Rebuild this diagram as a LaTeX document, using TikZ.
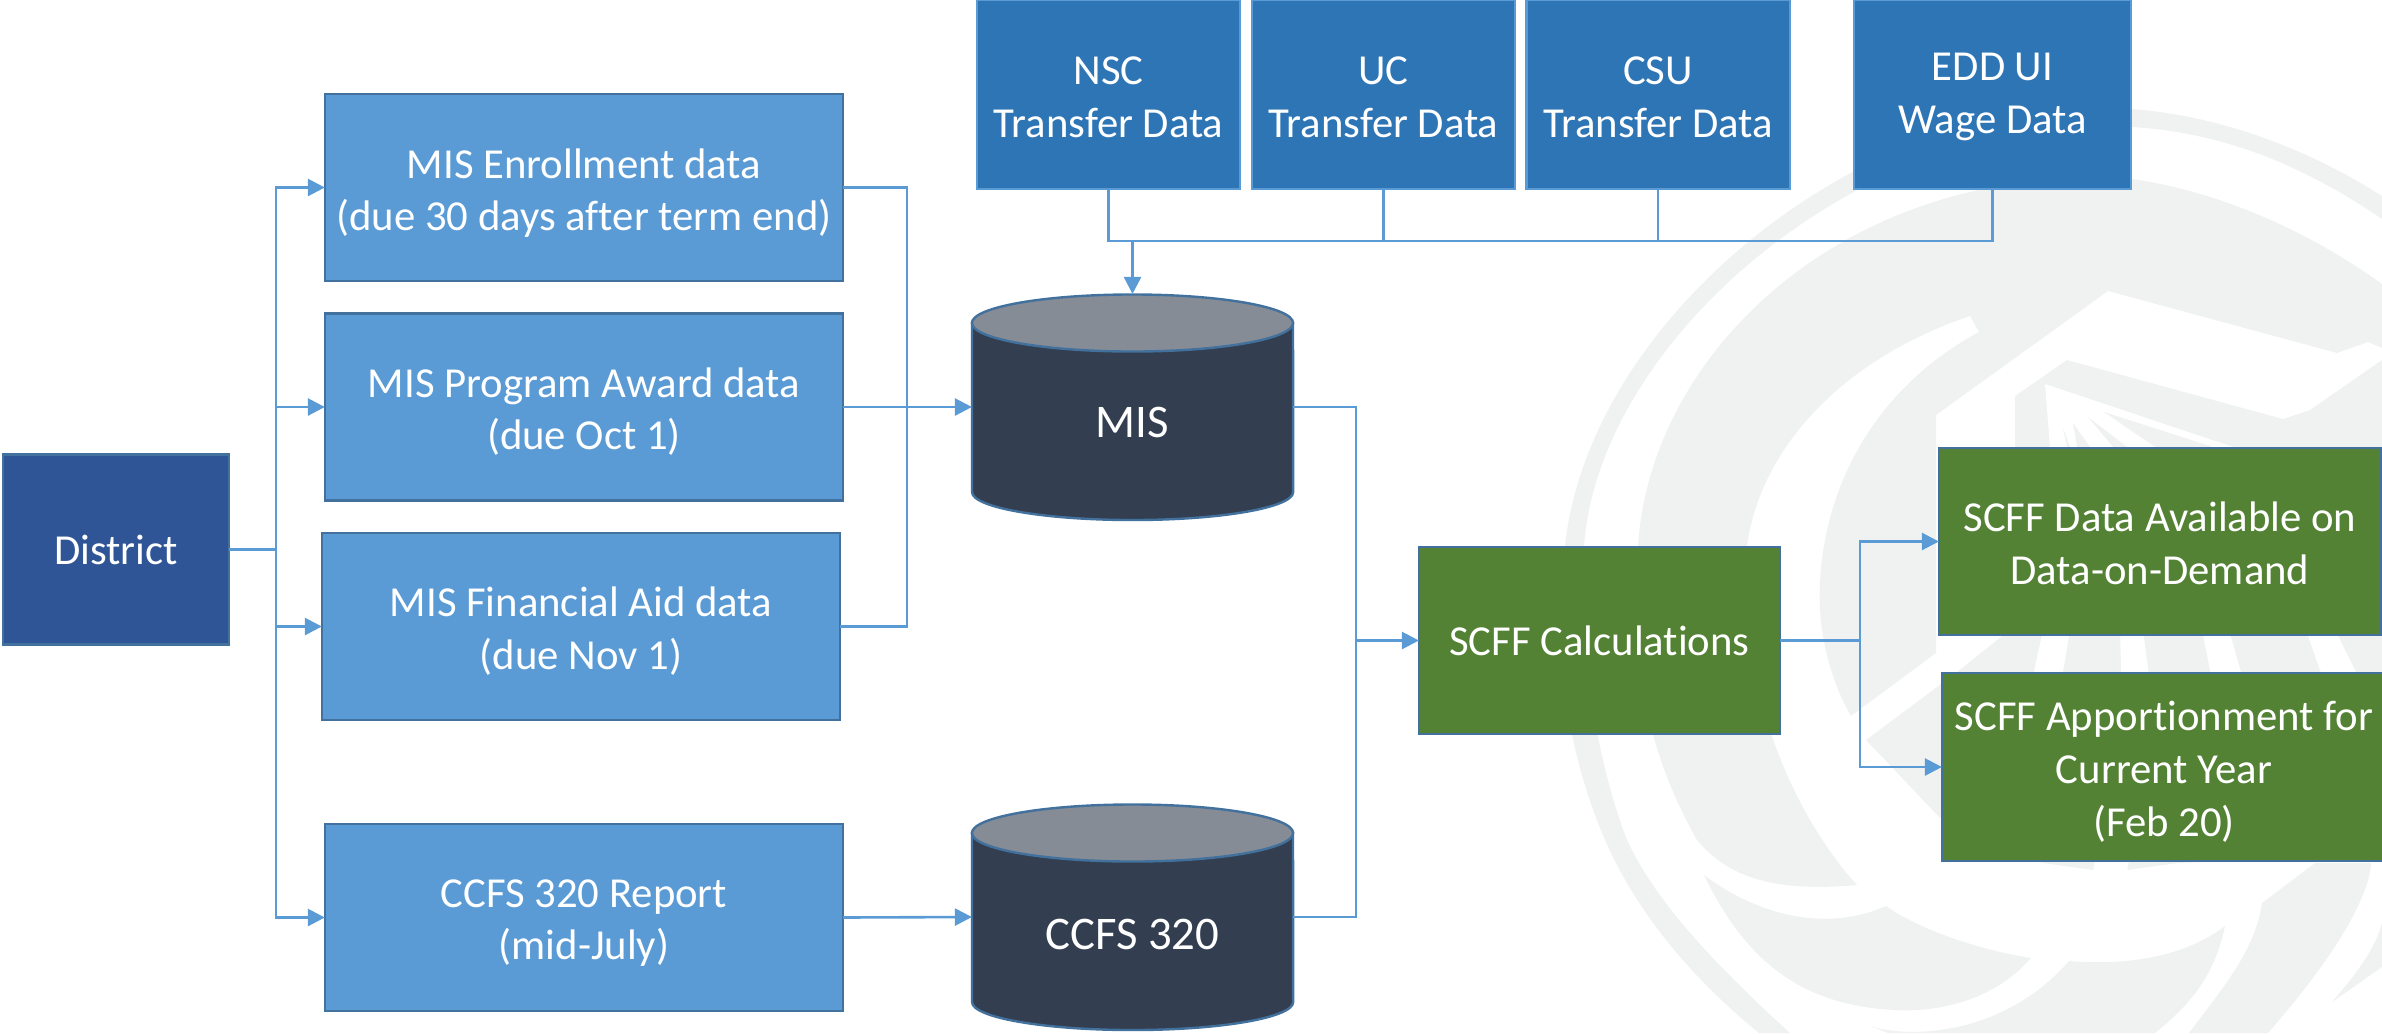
\documentclass[tikz,border=0pt]{standalone}
\usepackage{fontspec}
\setmainfont[Ligatures=NoCommon]{Carlito}
\usepackage{xcolor}
\usetikzlibrary{arrows.meta}
\tikzset{>={Triangle[length=0.17cm,width=0.17cm]}}
\definecolor{logogrey}{HTML}{F0F2F2}
\definecolor{linkblue}{HTML}{5B9BD5}
\definecolor{edgeblue}{HTML}{41719C}
\definecolor{topblue}{HTML}{2E75B6}
\definecolor{darkblue}{HTML}{2F5597}
\definecolor{slate}{HTML}{333F50}
\definecolor{slatetop}{HTML}{858C96}
\definecolor{sgreen}{HTML}{548235}
\newcommand{\firstline}[1][0.39cm]{\rule{0pt}{#1}}
\tikzstyle{basebox}=[draw,line width=0.022cm,text=white,align=center,outer sep=0pt,inner sep=0pt,
  font=\fontsize{12.15}{15}\selectfont]
\tikzstyle{databox}=[basebox,draw=edgeblue,fill=linkblue,minimum width=5.18cm,minimum height=1.87cm]
\tikzstyle{feedbox}=[basebox,draw=linkblue,fill=topblue,minimum width=2.63cm,minimum height=1.89cm]
\tikzstyle{resultbox}=[basebox,draw=edgeblue,fill=sgreen,minimum height=1.87cm]
\tikzstyle{drum}=[minimum width=3.21cm,minimum height=2.26cm,outer sep=0pt,inner sep=0pt]
\tikzstyle{drumtext}=[text=white,font=\fontsize{13.3}{16}\selectfont]
\tikzstyle{drumline}=[draw=edgeblue,line width=0.024cm]
\tikzstyle{link}=[linkblue,line width=0.026cm]

\begin{document}
\begin{tikzpicture}[x=0.01cm,y=-0.01cm]

  \useasboundingbox (0,0) rectangle (2382,1033);

  % watermark, outer band
  \fill[logogrey] (2382,196) .. controls (2310,150) and (2220,115) .. (2130,109)
    .. controls (1880,85) and (1590,310) .. (1565,546)
    .. controls (1550,650) and (1570,760) .. (1605,840)
    .. controls (1640,920) and (1700,985) .. (1759,1033)
    -- (1790,1033) .. controls (1710,960) and (1655,900) .. (1627,840)
    .. controls (1600,770) and (1578,660) .. (1584,546)
    .. controls (1600,330) and (1880,105) .. (2132,127)
    .. controls (2230,133) and (2310,170) .. (2382,219) -- cycle;
  \fill[logogrey] (2332,1002) .. controls (2355,975) and (2375,950) .. (2382,923) -- (2382,967) -- cycle;

  % watermark, thick ring
  \fill[logogrey] (2382,284) .. controls (2300,225) and (2210,190) .. (2132,179)
    .. controls (1850,160) and (1650,350) .. (1638,546)
    .. controls (1630,640) and (1640,740) .. (1697,840)
    .. controls (1730,880) and (1780,892) .. (1857,885)
    .. controls (1780,800) and (1735,660) .. (1747,546)
    .. controls (1760,450) and (1840,360) .. (1970,316)
    -- (1979,332) .. controls (1880,385) and (1825,480) .. (1820,582)
    .. controls (1817,630) and (1830,680) .. (1851,716)
    -- (1936,653) -- (1936,415) -- (2108,291) -- (2337,353) -- (2368,342) -- (2382,348) -- cycle;

  % watermark, shield
  \fill[logogrey] (2015,396) -- (2067,360) -- (2283,419) -- (2310,410) -- (2382,360) -- (2382,855)
    -- (2178,863) -- (2127,870) -- (2093,870) -- (2043,863) -- (1939,817) -- (1866,740)
    -- (1957,672) -- (2001,637) -- (2015,620) -- cycle;
  \fill[white] (2045,384) -- (2233,447) -- (2050,447) -- cycle;
  \fill[logogrey] (2063,428) -- (2070,447) -- (2067,447) -- cycle;
  \fill[logogrey] (2073,423) -- (2090,447) -- (2077,447) -- cycle;
  \fill[logogrey] (2088,417) -- (2127,447) -- (2113,447) -- cycle;
  \fill[logogrey] (2104,412) -- (2213,447) -- (2155,447) -- cycle;
  \fill[white] (2043,630) -- (2070,630) -- (2060,690) -- (2030,690) -- cycle;
  \fill[white] (2120,630) -- (2143,630) -- (2152,700) -- (2122,700) -- cycle;
  \fill[white] (2202,630) -- (2229,630) -- (2246,690) -- (2214,690) -- cycle;
  \fill[white] (2306,630) -- (2335,630) -- (2365,690) -- (2327,690) -- cycle;
  \fill[white] (2096,855) -- (2130,855) -- (2127,871) -- (2093,871) -- cycle;

  % watermark, lower swooshes
  \fill[logogrey] (1704,875) .. controls (1750,910) and (1820,935) .. (1886,906)
    .. controls (1920,930) and (1980,950) .. (2031,958)
    .. controls (1990,1005) and (1930,1012) .. (1894,1010)
    .. controls (1800,1005) and (1745,960) .. (1704,875) -- cycle;
  \fill[logogrey] (2069,961) .. controls (2120,965) and (2180,960) .. (2225,926)
    .. controls (2215,975) and (2190,1005) .. (2155,1033) -- (1888,1033) -- (1868,1025)
    .. controls (1900,1038) and (2000,1040) .. (2069,961) -- cycle;
  \fill[logogrey] (2262,903) -- (2315,863) -- (2371,863)
    .. controls (2370,890) and (2345,945) .. (2268,1033) -- (2189,1033)
    .. controls (2225,985) and (2255,950) .. (2262,903) -- cycle;

  % sources
  \node[basebox,draw=edgeblue,fill=darkblue,minimum width=2.26cm,minimum height=1.9cm] (district) at (116,549.5) {District};
  \node[databox] (enroll) at (584,187.5) {\firstline[0.41cm]MIS Enrollment data\\(due 30 days after term end)};
  \node[databox] (award) at (584,407) {\firstline MIS Program Award data\\(due Oct 1)};
  \node[databox] (aid) at (581,626.5) {\firstline MIS Financial Aid data\\(due Nov 1)};
  \node[databox] (report) at (584,917.5) {\firstline CCFS 320 Report\\(mid-July)};

  % feeds along the top
  \node[feedbox] (nsc) at (1108.5,94.5) {\firstline[0.33cm]NSC\\Transfer Data};
  \node[feedbox] (uc) at (1383.5,94.5) {\firstline[0.33cm]UC\\Transfer Data};
  \node[feedbox] (csu) at (1658,94.5) {\firstline[0.33cm]CSU\\Transfer Data};
  \node[feedbox,minimum width=2.77cm] (edd) at (1992.5,94.5) {\firstline[0.33cm]EDD UI\\Wage Data};

  % stores
  \node[drum] (mis) at (1132.5,407) {};
  \node[drum] (ccfs) at (1132.5,917) {};
  \foreach \cy in {407,917} {
    \draw[drumline,fill=slate] (972,\cy-84) -- (972,\cy+85) arc (180:360:1.605cm and 0.28cm) -- (1293,\cy-84) -- cycle;
    \draw[drumline,fill=slatetop] (1132.5,\cy-84) circle (1.605cm and 0.285cm);
  }
  \node[drumtext] (mistext) at (1132.5,422) {MIS};
  \node[drumtext] (ccfstext) at (1132.5,934) {CCFS 320};

  % results
  \node[resultbox,minimum width=3.61cm] (calc) at (1599.5,640.5) {SCFF Calculations};
  \node[resultbox,minimum width=4.42cm] (avail) at (2160,541.5) {\firstline[0.33cm]SCFF Data Available on\\Data-on-Demand};
  \node[resultbox,minimum width=4.44cm,minimum height=1.88cm] (apport) at (2164,767) {\firstline SCFF Apportionment for\\Current Year\\(Feb 20)};

  % junctions
  \coordinate (busL) at (276,549.5);
  \coordinate (busM) at (907,407);
  \coordinate (busT) at (1132.5,241);
  \coordinate (busR) at (1356,640.5);
  \coordinate (busG) at (1860,640.5);

  % connectors
  \draw[link] (district.east) -- (busL);
  \draw[link,->] (busL) |- (enroll.west);
  \draw[link,->] (busL) |- (award.west);
  \draw[link,->] (busL) |- (aid.west);
  \draw[link,->] (busL) |- (report.west);

  \draw[link] (enroll.east) -| (busM);
  \draw[link] (aid.east) -| (busM);
  \draw[link,->] (award.east) -- (mis.west);
  \draw[link,->] (report.east) -- (ccfs.west);

  \draw[link] (nsc.south) |- (busT);
  \draw[link] (edd.south) |- (busT);
  \draw[link] (uc.south) -- (uc.south |- busT);
  \draw[link] (csu.south) -- (csu.south |- busT);
  \draw[link,->] (busT) -- (mis.north);

  \draw[link] (mis.east) -| (busR);
  \draw[link] (ccfs.east) -| (busR);
  \draw[link,->] (busR) -- (calc.west);

  \draw[link] (calc.east) -- (busG);
  \draw[link,->] (busG) |- (avail.west);
  \draw[link,->] (busG) |- (apport.west);

\end{tikzpicture}
\end{document}
